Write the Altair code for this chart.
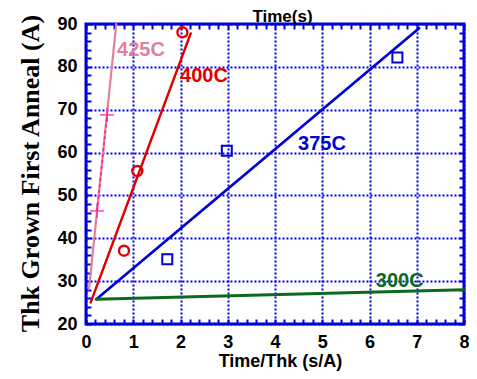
import altair as alt
import pandas as pd

# ---- data ----
series = ["425C", "400C", "375C", "300C"]
line_x0 = [0.063, 0.10, 0.218, 0.218]
line_y0 = [28.1, 25.05, 25.76, 25.76]
line_x1 = [0.64, 2.216, 7.05, 8.0]
line_y1 = [90.0, 87.8, 89.0, 28.0]
line_colors = ["#e0809a", "#e00000", "#0000d8", "#0a6a1e"]
line_widths = [2.2, 3, 3, 2.6]

p425_x = [0.234, 0.446]
p425_y = [46.4, 68.8]
p400_x = [0.804, 1.086, 2.04]
p400_y = [37.1, 55.7, 88.06]
p375_x = [1.72, 2.98, 6.59]
p375_y = [35.1, 60.4, 82.2]

label_x = [1.164, 2.497, 4.995, 6.64]
label_y = [84.05, 77.9, 61.95, 30.0]

x_ticks = [round(i * 0.2, 1) for i in range(41)]
y_ticks = list(range(20, 91, 2))

BLUE = "#0000dd"
SANS = "Liberation Sans"
SERIF = "Liberation Serif"

xs = alt.Scale(domain=[0, 8], nice=False, zero=False)
ys = alt.Scale(domain=[20, 90], nice=False, zero=False)

is_int = "abs(datum.value - round(datum.value)) < 0.001"
is_ten = "abs(datum.value - round(datum.value/10)*10) < 0.001"

ax_bottom = alt.Axis(
    orient="bottom", values=x_ticks, offset=-5, tickSize=5, tickWidth=2, tickColor=BLUE,
    domain=False, labelExpr=f"{is_int} ? format(datum.value, 'd') : ''",
    labelFlush=False, labelOverlap=False, labelPadding=9, labelFont=SANS,
    labelFontSize=18, labelFontWeight="bold", labelColor="black",
    grid=True, gridColor=BLUE, gridDash=[2, 2], gridWidth=2,
    gridOpacity={"condition": {"test": is_int, "value": 1}, "value": 0},
    title="Time/Thk (s/A)", titleFont=SANS, titleFontSize=18, titleFontWeight="bold",
    titleColor="black", titleX=194, titleY=47, titleBaseline="alphabetic",
)
ax_left = alt.Axis(
    orient="left", values=y_ticks, offset=-5, tickSize=5, tickWidth=2, tickColor=BLUE,
    domain=False, labelExpr=f"{is_ten} ? format(datum.value, 'd') : ''",
    labelOverlap=False, labelPadding=9, labelFont=SANS, labelFontSize=18,
    labelFontWeight="bold", labelColor="black",
    grid=True, gridColor=BLUE, gridDash=[2, 2], gridWidth=2,
    gridOpacity={"condition": {"test": is_ten, "value": 1}, "value": 0},
    title="Thk Grown First Anneal (A)", titleFont=SERIF, titleFontSize=26,
    titleFontWeight="bold", titleColor="black", titleAngle=270,
    titleBaseline="alphabetic", titleX=-53, titleY=149,
)
ax_top = alt.Axis(
    orient="top", values=x_ticks, offset=-5, tickSize=5, tickWidth=2, tickColor=BLUE,
    domain=False, labels=False, grid=False,
    title="Time(s)", titleFont=SANS, titleFontSize=17, titleFontWeight="bold",
    titleColor="black", titleX=196, titleY=-8, titleBaseline="alphabetic",
)
ax_right = alt.Axis(
    orient="right", values=y_ticks, offset=-5, tickSize=5, tickWidth=2, tickColor=BLUE,
    domain=False, labels=False, grid=False, title=None,
)

rows = []
for s, a, b, c, d in zip(series, line_x0, line_y0, line_x1, line_y1):
    rows.append({"s": s, "x": a, "y": b, "o": 0})
    rows.append({"s": s, "x": c, "y": d, "o": 1})
lines_df = pd.DataFrame(rows)

lines = alt.Chart(lines_df).mark_line(strokeCap="round").encode(
    x=alt.X("x:Q", scale=xs, axis=ax_bottom),
    y=alt.Y("y:Q", scale=ys, axis=ax_left),
    detail="s:N",
    order="o:Q",
    color=alt.Color("s:N", scale=alt.Scale(domain=series, range=line_colors), legend=None),
    strokeWidth=alt.StrokeWidth("s:N", scale=alt.Scale(domain=series, range=line_widths), legend=None),
)

d425 = pd.DataFrame({"x": p425_x, "y": p425_y})
dash425 = alt.Chart(d425).mark_line(color="#ff2090", strokeDash=[3, 3], strokeWidth=1.6).encode(
    x=alt.X("x:Q", scale=xs, axis=None),
    y=alt.Y("y:Q", scale=ys, axis=None),
)
plus425 = alt.Chart(d425).mark_point(
    shape="M-1,0H1M0,-1V1", size=200, color="#ff2090", strokeWidth=1.8, filled=False
).encode(
    x=alt.X("x:Q", scale=xs, axis=ax_top),
    y=alt.Y("y:Q", scale=ys, axis=ax_right),
)
circ400 = alt.Chart(pd.DataFrame({"x": p400_x, "y": p400_y})).mark_point(
    shape="circle", size=100, color="#e00000", strokeWidth=2.4, opacity=1, filled=False
).encode(
    x=alt.X("x:Q", scale=xs, axis=None),
    y=alt.Y("y:Q", scale=ys, axis=None),
)
sq375 = alt.Chart(pd.DataFrame({"x": p375_x, "y": p375_y})).mark_point(
    shape="square", size=100, color=BLUE, strokeWidth=2, opacity=1, filled=False
).encode(
    x=alt.X("x:Q", scale=xs, axis=None),
    y=alt.Y("y:Q", scale=ys, axis=None),
)

labels = alt.Chart(pd.DataFrame({"t": series, "x": label_x, "y": label_y})).mark_text(
    font=SANS, fontSize=20, fontWeight="bold", align="center", baseline="middle"
).encode(
    x=alt.X("x:Q", scale=xs, axis=None),
    y=alt.Y("y:Q", scale=ys, axis=None),
    text="t:N",
    color=alt.Color("t:N", scale=alt.Scale(domain=series, range=line_colors), legend=None),
)

chart = alt.layer(lines, dash425, circ400, sq375, plus425, labels).resolve_axis(
    x="independent", y="independent"
).resolve_scale(color="shared").properties(
    width=378, height=300,
    autosize=alt.AutoSizeParams(type="none"),
    padding={"left": 78, "top": 16, "right": 5, "bottom": 47},
    background="white",
).configure_view(stroke=BLUE, strokeWidth=3)

chart.save("out.html", embed_options={"renderer": "svg", "actions": False})
